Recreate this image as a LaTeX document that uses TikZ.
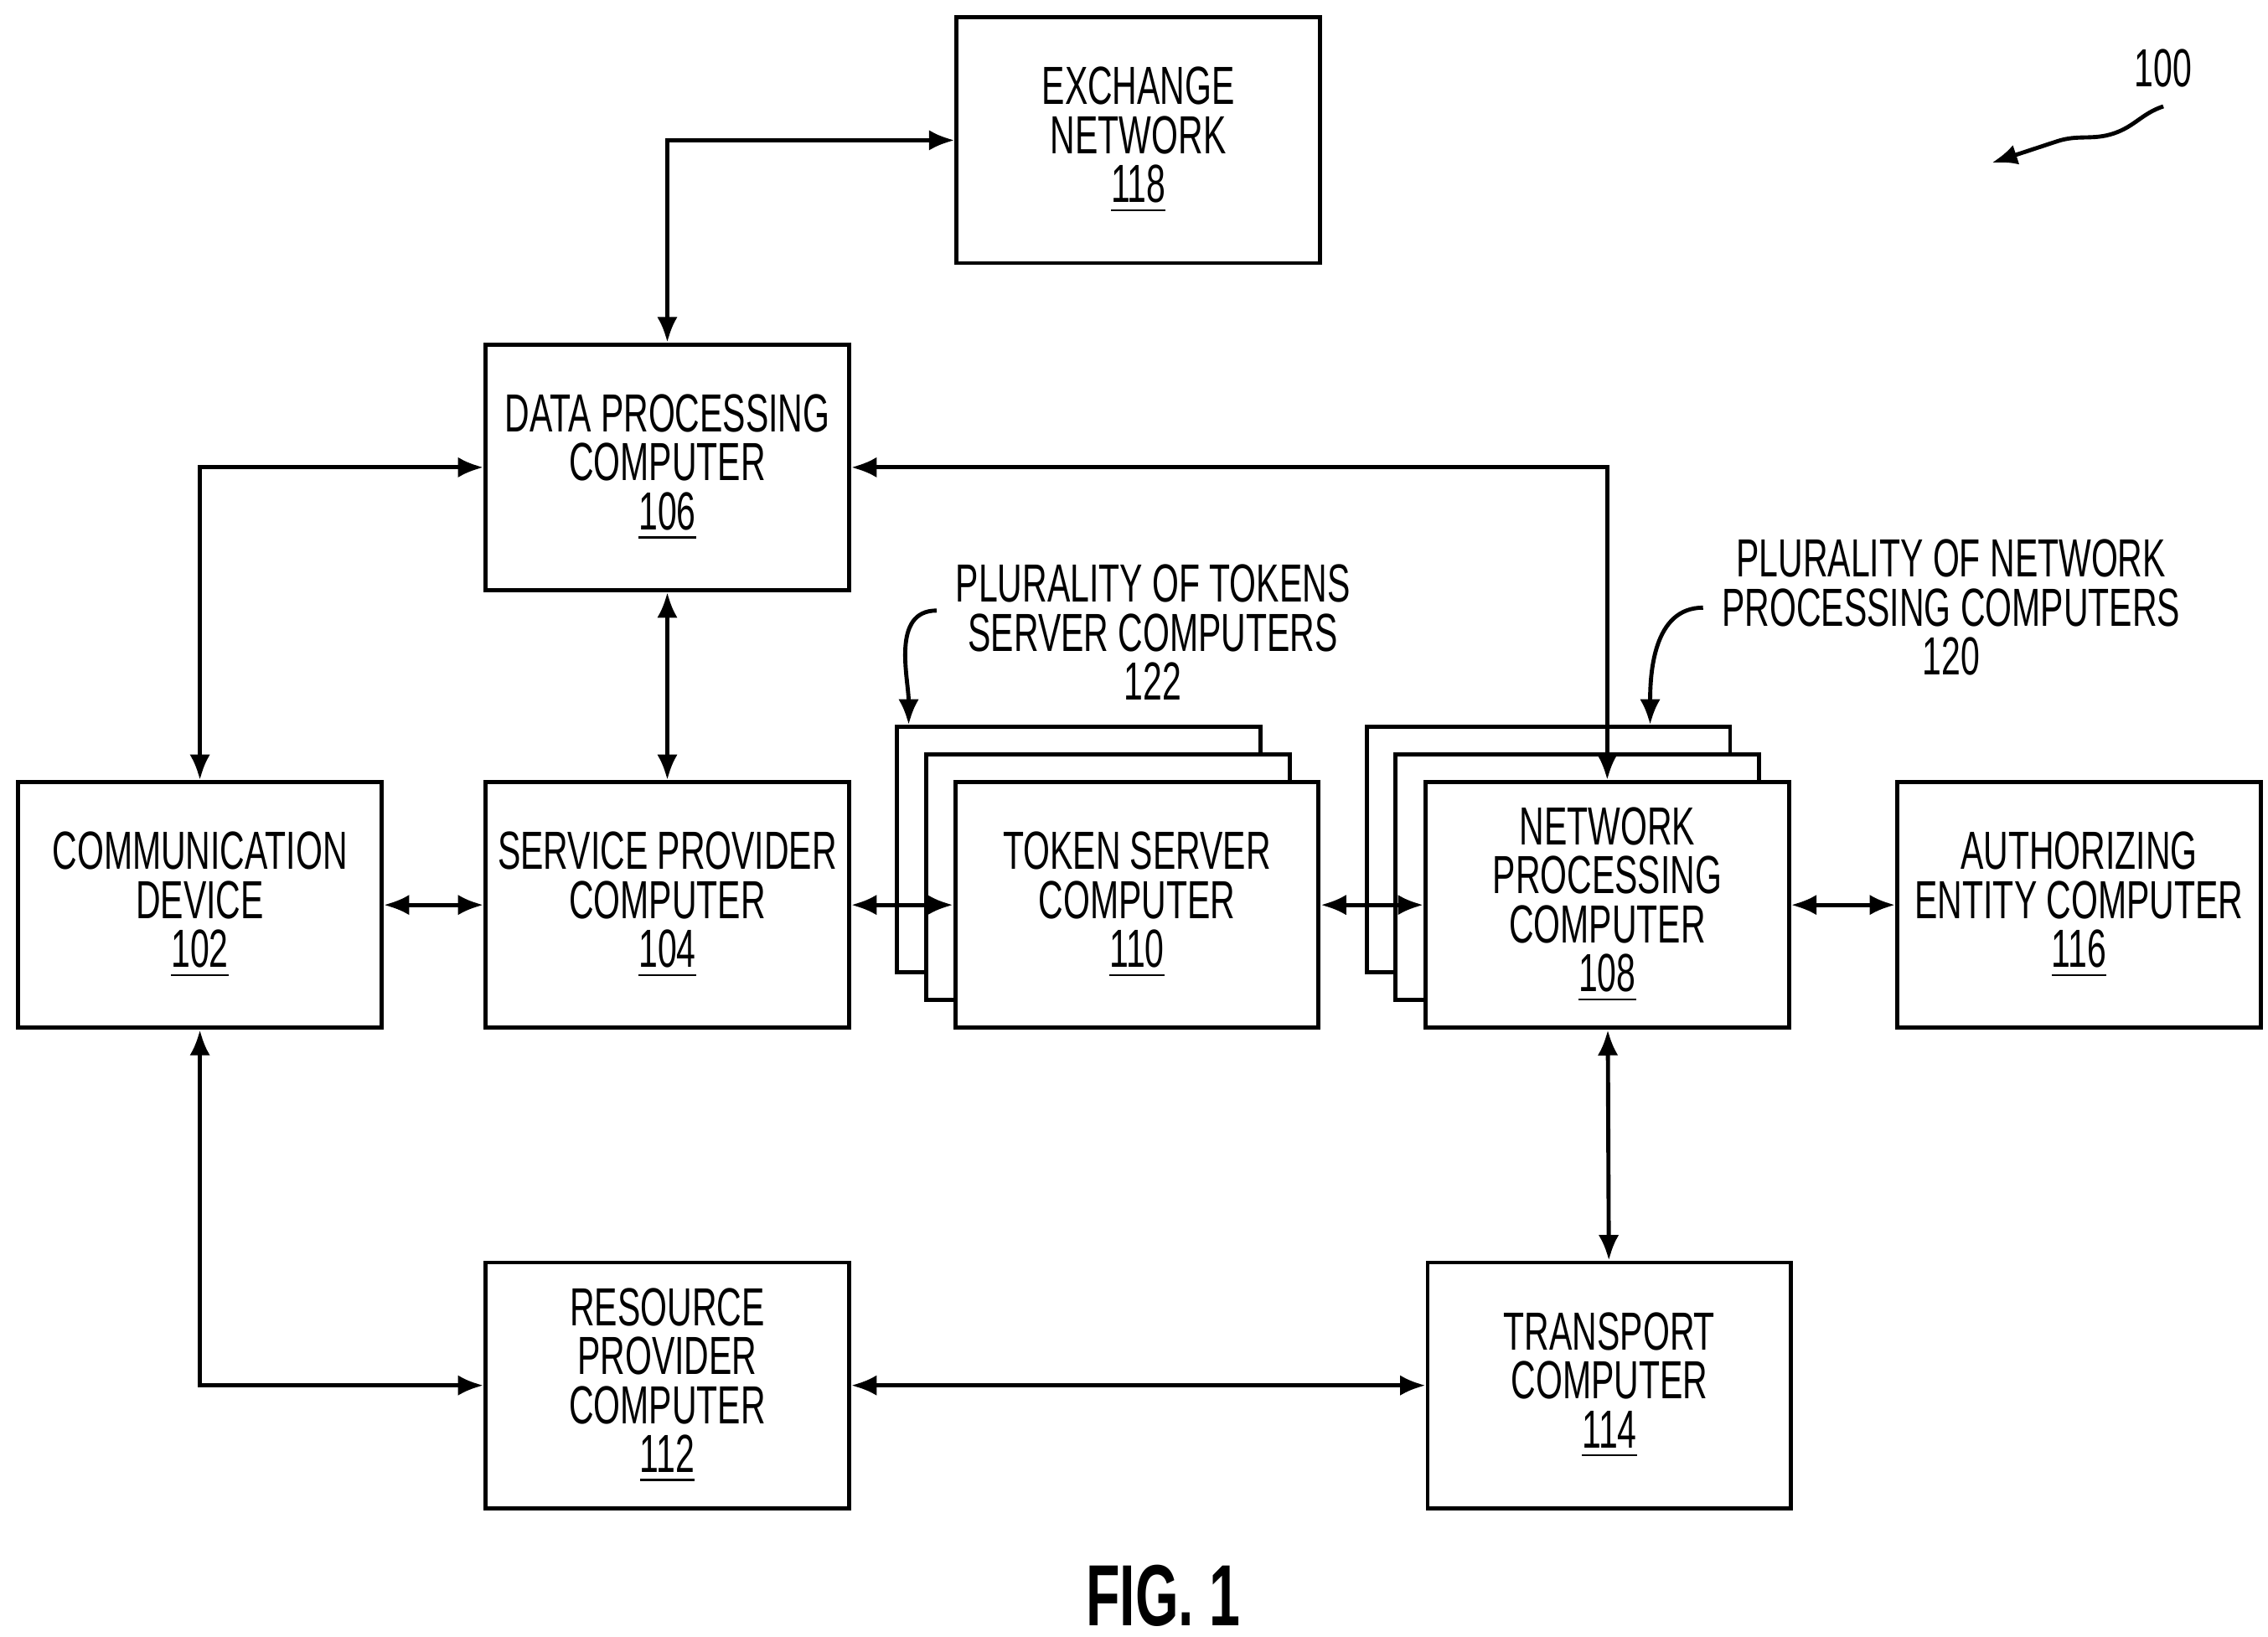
\documentclass[tikz,border=0pt]{standalone}
\usepackage{fontspec}
\setmainfont{Liberation Sans}[FakeStretch=0.64]
\usetikzlibrary{arrows.meta,positioning,calc,decorations.pathmorphing}
\newcommand{\refno}[1]{\underline{#1}}
\begin{document}
\begin{tikzpicture}[x=0.1mm,y=-0.1mm,thick,
  box/.style={draw,fill=white,minimum width=2.5cm,minimum height=1.69cm,inner sep=1pt,align=center,
    font=\fontsize{10.5}{9.6}\selectfont},
  link/.style={{Latex[length=5pt,width=4pt]}-{Latex[length=5pt,width=4pt]},line width=0.8pt},
  note/.style={align=center,font=\fontsize{10.5}{9.6}\selectfont}]
\useasboundingbox (0,0) rectangle (1560,1126);
% boxes
\node[box] (exch) at (783,96.5) {EXCHANGE\\NETWORK\\\refno{118}};
\node[box] (dpc) at (459,321.5) {DATA PROCESSING\\COMPUTER\\\refno{106}};
\node[box] (comm) at (137.5,622.5) {COMMUNICATION\\DEVICE\\\refno{102}};
\node[box] (spc) at (459,622.5) {SERVICE PROVIDER\\COMPUTER\\\refno{104}};
% token server stack
\node[box] (tokC) at (742,584.5) {};
\node[box] (tokB) at (762,603.5) {};
\node[box] (tok) at (782,622.5) {TOKEN SERVER\\COMPUTER\\\refno{110}};
% network processing stack
\node[box] (netC) at (1065,584.5) {};
\node[box] (netB) at (1085,603.5) {};
\node[box] (net) at (1105.5,622.5) {NETWORK\\PROCESSING\\COMPUTER\\\refno{108}};
\node[box] (auth) at (1430,622.5) {AUTHORIZING\\ENTITY COMPUTER\\\refno{116}};
\node[box] (rpc) at (459,953) {RESOURCE\\PROVIDER\\COMPUTER\\\refno{112}};
\node[box] (trans) at (1107,953) {TRANSPORT\\COMPUTER\\\refno{114}};
% connectors
\draw[link] (dpc.north) |- (exch.west);
\draw[link] (comm.north) |- (dpc.west);
\draw[link] (net.north) |- (dpc.east);
\draw[link] (dpc) -- (spc);
\draw[link] (comm) -- (spc);
\draw[link] (spc) -- (tok);
\draw[link] (tok) -- (net);
\draw[link] (net) -- (auth);
\draw[link] (net) -- (trans);
\draw[link] (comm.south) |- (rpc.west);
\draw[link] (rpc) -- (trans);
% annotations
\node[note] (tokLbl) at (793,435) {PLURALITY OF TOKENS\\SERVER COMPUTERS\\122};
\node[note] (netLbl) at (1342,418) {PLURALITY OF NETWORK\\PROCESSING COMPUTERS\\120};
\draw[-{Latex[length=5pt,width=4pt]},line width=0.8pt] (tokLbl.west |- 0,420) to[out=180,in=90] (tokC.north -| 625,0);
\draw[-{Latex[length=5pt,width=4pt]},line width=0.8pt] (netLbl.west |- 0,418) to[out=180,in=90] (netC.north -| 1135,0);
\node[note] (fig) at (800,1098) {\fontsize{17}{17}\selectfont\bfseries FIG. 1};
\node[note] (sys) at (1488,47) {100};
\coordinate (sysTip) at (1370,112);
\draw[-{Latex[length=5pt,width=4pt]},line width=0.8pt,decorate,decoration={snake,amplitude=2pt,segment length=35pt,post length=8pt}] (sys.south) to (sysTip);
\end{tikzpicture}
\end{document}
